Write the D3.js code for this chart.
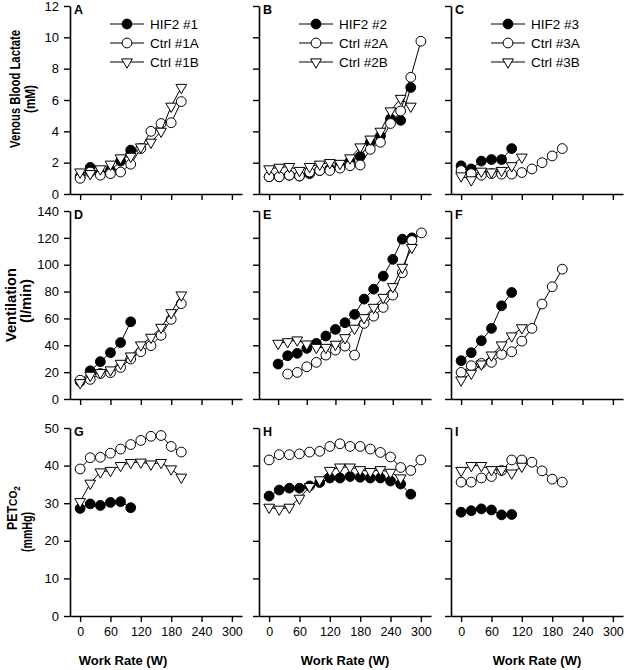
<!DOCTYPE html>
<html>
<head>
<meta charset="utf-8">
<script src="https://cdn.jsdelivr.net/npm/d3@7"></script>
<style>
  body { margin: 0; background: #fff; }
</style>
</head>
<body>
<div id="chart"></div>
<script>
// ---- data (20 W steps) ----
const workRate = [0, 20, 40, 60, 80, 100, 120, 140, 160, 180, 200, 220, 240, 260, 280, 300];
const xTicks = [0, 60, 120, 180, 240, 300];

const seriesNames = [
  ["HIF2 #1", "Ctrl #1A", "Ctrl #1B"],
  ["HIF2 #2", "Ctrl #2A", "Ctrl #2B"],
  ["HIF2 #3", "Ctrl #3A", "Ctrl #3B"]
];
const panelLetters = [["A", "B", "C"], ["D", "E", "F"], ["G", "H", "I"]];

// venous blood lactate (mM)
const lactateHif1 = [1.1, 1.7, 1.3, 1.5, 2.1, 2.8];
const lactateCtrl1A = [1.0, 1.4, 1.2, 1.3, 1.4, 1.9, 2.9, 4.0, 4.5, 4.55, 5.9];
const lactateCtrl1B = [1.4, 1.3, 1.6, 1.9, 2.3, 2.4, 3.0, 3.3, 4.0, 5.6, 6.8];
const lactateHif2 = [1.1, 1.1, 1.2, 1.15, 1.3, 1.5, 1.6, 1.8, 2.1, 2.4, 3.3, 3.7, 4.8, 4.7, 6.8];
const lactateCtrl2A = [1.1, 1.1, 1.2, 1.15, 1.4, 1.5, 1.5, 1.65, 1.8, 1.85, 2.85, 3.3, 4.5, 5.3, 7.45, 9.75];
const lactateCtrl2B = [1.6, 1.7, 1.75, 1.5, 1.75, 1.9, 2.0, 1.95, 2.3, 3.0, 3.5, 4.0, 5.3, 6.1, 5.6];
const lactateHif3 = [1.8, 1.6, 2.1, 2.2, 2.2, 2.9];
const lactateCtrl3A = [1.5, 1.3, 1.2, 1.3, 1.27, 1.27, 1.37, 1.6, 2.0, 2.43, 2.9];
const lactateCtrl3B = [1.15, 0.9, 1.45, 1.4, 1.5, 1.8, 2.35];

// ventilation (l/min)
const ventHif1 = [13, 21, 27.8, 34.5, 42, 57.5];
const ventCtrl1A = [14, 14.6, 19, 19.6, 23.5, 29.8, 35.2, 39.7, 47.4, 59.3, 71];
const ventCtrl1B = [12.1, 17.6, 19.6, 21.6, 26.5, 32, 40.2, 45.9, 53.3, 64.2, 77.4];
const ventHif2 = [26, 32.2, 34, 37.7, 41.4, 46.9, 51.8, 56.8, 63, 74.4, 81.8, 91.5, 104, 119, 120];
const ventCtrl2A = [null, 18.6, 19.8, 24, 27.3, 32.7, 36.4, 39.4, 32.7, 56.3, 61.7, 68.2, 77.4, 94, 118, 123.7];
const ventCtrl2B = [41.4, 42.6, 43.9, 40.9, 38.4, 38.4, 40.7, 45.6, 52.6, 60.5, 68.2, 75.6, 83.6, 98, 112.8];
const ventHif3 = [28.5, 34.5, 43.4, 52.6, 69.4, 79.3];
const ventCtrl3A = [19.8, 24.8, 26.5, 27.3, 33.2, 35.2, 43.1, 52.6, 70.7, 83.6, 96.7];
const ventCtrl3B = [14.1, 19.1, 26, 32.7, 40.2, 46.9, 53];

// end-tidal PCO2 (mmHg)
const petHif1 = [28.6, 29.8, 29.4, 30.2, 30.4, 28.8];
const petCtrl1A = [39.1, 42.1, 42.2, 43.3, 44.4, 45.6, 46.7, 47.8, 48, 45.1, 43.6];
const petCtrl1B = [30.4, 35.3, 38.3, 38.7, 40, 40.8, 40.9, 40.4, 40.8, 39.1, 36.9];
const petHif2 = [31.9, 33.5, 34, 34, 34.6, 35.5, 36.7, 36.7, 37.1, 36.9, 36.7, 36.7, 35.9, 35.1, 32.4];
const petCtrl2A = [41.5, 42.9, 42.9, 43.1, 43.6, 43.8, 45.1, 45.8, 45.1, 45.1, 44.4, 43.5, 42.3, 39.5, 38.7, 41.5];
const petCtrl2B = [28.9, 28.4, 28.9, 31.3, 34.4, 36.2, 38.7, 39.6, 39.6, 38.9, 38.4, 38.9, 38.2, 36.7];
const petHif3 = [27.6, 28, 28.5, 28.2, 26.9, 27];
const petCtrl3A = [35.6, 35.6, 36.7, 37.1, 38.7, 41.5, 41.5, 40.9, 38.6, 36.4, 35.6];
const petCtrl3B = [38.7, 40, 40, 38.9, 38.9, 38, 39.8];

const rows = [
  {
    yDomain: [0, 12], yTicks: [0, 2, 4, 6, 8, 10, 12],
    series: [[lactateHif1, lactateCtrl1A, lactateCtrl1B], [lactateHif2, lactateCtrl2A, lactateCtrl2B], [lactateHif3, lactateCtrl3A, lactateCtrl3B]]
  },
  {
    yDomain: [0, 140], yTicks: [0, 20, 40, 60, 80, 100, 120, 140],
    series: [[ventHif1, ventCtrl1A, ventCtrl1B], [ventHif2, ventCtrl2A, ventCtrl2B], [ventHif3, ventCtrl3A, ventCtrl3B]]
  },
  {
    yDomain: [0, 50], yTicks: [0, 10, 20, 30, 40, 50],
    series: [[petHif1, petCtrl1A, petCtrl1B], [petHif2, petCtrl2A, petCtrl2B], [petHif3, petCtrl3A, petCtrl3B]]
  }
];

// ---- layout ----
const attrs = {
  svgWidth: 624,
  svgHeight: 670,
  colLeft: [70, 259, 451],
  rowTop: [6, 211, 428],
  panelWidth: 172,
  panelHeight: 188,
  defaultFont: 'Arial, "Liberation Sans", Helvetica, sans-serif',
  markerRadius: 4.9
};
const symbolTypes = ["filled", "open", "triangle"];

const svg = d3.select("#chart").append("svg")
  .attr("width", attrs.svgWidth)
  .attr("height", attrs.svgHeight)
  .attr("font-family", attrs.defaultFont);

function drawMarker(sel, type) {
  if (type === "triangle") {
    sel.append("path")
      .attr("d", d3.symbol().type(d3.symbolTriangle).size(50)())
      .attr("transform", "rotate(180)")
      .attr("fill", "#fff")
      .attr("stroke", "#000")
      .attr("stroke-width", 1);
  } else {
    sel.append("circle")
      .attr("r", attrs.markerRadius)
      .attr("fill", type === "filled" ? "#000" : "#fff")
      .attr("stroke", "#000")
      .attr("stroke-width", 1);
  }
}

rows.forEach((row, r) => {
  seriesNames.forEach((names, c) => {
    const g = svg.append("g")
      .attr("transform", `translate(${attrs.colLeft[c]},${attrs.rowTop[r]})`);

    // panel E uses a wider x range on the left
    const xDomain = (r === 1 && c === 1) ? [-40, 320] : [-20, 320];
    const x = d3.scaleLinear().domain(xDomain).range([0, attrs.panelWidth]);
    const y = d3.scaleLinear().domain(row.yDomain).range([attrs.panelHeight, 0]);

    // axes
    const yAxis = g.append("g")
      .call(d3.axisLeft(y).tickValues(row.yTicks).tickSize(6).tickSizeOuter(0).tickPadding(5)
        .tickFormat(c === 0 ? d3.format("d") : () => ""));
    const xAxis = g.append("g")
      .attr("transform", `translate(0,${attrs.panelHeight})`)
      .call(d3.axisBottom(x).tickValues(xTicks).tickSize(6).tickSizeOuter(0).tickPadding(5)
        .tickFormat(r === 2 ? d3.format("d") : () => ""));
    [yAxis, xAxis].forEach(a => {
      a.select(".domain").attr("stroke", "#000").attr("stroke-width", 1.6);
      a.selectAll(".tick line").attr("stroke", "#000").attr("stroke-width", 1.4);
      a.selectAll(".tick text").attr("fill", "#000").attr("font-family", attrs.defaultFont);
    });
    yAxis.selectAll(".tick text").attr("font-size", 13);
    xAxis.selectAll(".tick text").attr("font-size", 12.5);

    // panel letter
    g.append("text")
      .attr("x", 4).attr("y", 8)
      .attr("font-size", 12.5).attr("font-weight", "bold")
      .text(panelLetters[r][c]);

    // series: line then symbols, HIF2 first
    const line = d3.line()
      .defined(d => d.v != null)
      .x(d => x(d.w))
      .y(d => y(d.v));

    row.series[c].forEach((vals, s) => {
      const pts = vals.map((v, i) => ({ w: workRate[i], v: v }));
      g.append("path")
        .datum(pts)
        .attr("d", line)
        .attr("fill", "none")
        .attr("stroke", "#000")
        .attr("stroke-width", 1);
      g.selectAll(null)
        .data(pts.filter(d => d.v != null))
        .enter().append("g")
        .attr("transform", d => `translate(${x(d.w)},${y(d.v)})`)
        .each(function () { drawMarker(d3.select(this), symbolTypes[s]); });
    });

    // legend in top row
    if (r === 0) {
      names.forEach((name, s) => {
        const ly = 18 + s * 19;
        const lg = g.append("g").attr("transform", `translate(57,${ly})`);
        lg.append("line").attr("x1", -17).attr("x2", 17)
          .attr("stroke", "#000").attr("stroke-width", 1);
        drawMarker(lg, symbolTypes[s]);
        g.append("text")
          .attr("x", 80).attr("y", ly).attr("dy", "0.36em")
          .attr("font-size", 13.5)
          .text(name);
      });
    }

    // x label in bottom row
    if (r === 2) {
      const labelCenter = [53, 86, 86];
      g.append("text")
        .attr("x", labelCenter[c]).attr("y", attrs.panelHeight + 49)
        .attr("text-anchor", "middle")
        .attr("font-size", 13).attr("font-weight", "bold")
        .text("Work Rate (W)");
    }
  });
});

// ---- y axis titles (two lines, rotated) ----
function yTitle(bx, cy, len, build) {
  const t = svg.append("text")
    .attr("transform", `translate(${bx},${cy}) rotate(-90)`)
    .attr("text-anchor", "middle")
    .attr("font-size", 14).attr("font-weight", "bold")
    .attr("textLength", len).attr("lengthAdjust", "spacingAndGlyphs");
  build(t);
}
yTitle(20, 89, 118, t => t.text("Venous Blood Lactate"));
yTitle(35, 99, 28, t => t.text("(mM)"));
yTitle(16, 305, 74, t => t.text("Ventilation"));
yTitle(31, 301, 44, t => t.text("(l/min)"));
yTitle(17, 508, 44, t => {
  t.append("tspan").text("PET");
  t.append("tspan").attr("font-size", 11.5).text("CO");
  t.append("tspan").attr("font-size", 9.5).attr("dy", 3).text("2");
});
yTitle(32, 532, 40, t => t.text("(mmHg)"));
</script>
</body>
</html>
